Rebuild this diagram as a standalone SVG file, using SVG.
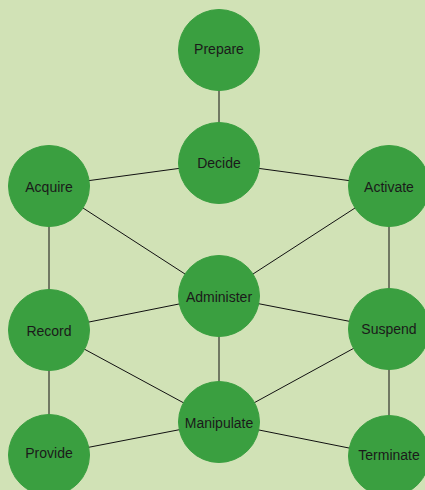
<svg xmlns="http://www.w3.org/2000/svg" width="425" height="490" viewBox="0 0 425 490">
<style>
.n circle{fill:#3a9f40;stroke:#3a9f40;stroke-width:1}
.n text{font-family:"Liberation Sans",Arial,sans-serif;font-size:14px;fill:#1a1a1a;text-anchor:middle;dominant-baseline:central}
#edges line{stroke:#111;stroke-width:1}
</style>
<rect width="425" height="490" fill="#d1e2b6"/>
<g id="edges">
<line x1="219" y1="50" x2="219" y2="163"/>
<line x1="219" y1="163" x2="49" y2="186"/>
<line x1="219" y1="163" x2="389" y2="186"/>
<line x1="49" y1="186" x2="219" y2="296"/>
<line x1="389" y1="186" x2="219" y2="296"/>
<line x1="49" y1="186" x2="49" y2="330"/>
<line x1="389" y1="186" x2="389" y2="329"/>
<line x1="219" y1="296" x2="49" y2="330"/>
<line x1="219" y1="296" x2="389" y2="329"/>
<line x1="219" y1="296" x2="219" y2="422"/>
<line x1="49" y1="330" x2="219" y2="422"/>
<line x1="389" y1="329" x2="219" y2="422"/>
<line x1="49" y1="330" x2="49" y2="455"/>
<line x1="389" y1="329" x2="389" y2="456"/>
<line x1="219" y1="422" x2="49" y2="455"/>
<line x1="219" y1="422" x2="389" y2="456"/>
</g>
<g id="prepare" class="n"><circle cx="219" cy="50" r="40.5"/><text x="219" y="49">Prepare</text></g>
<g id="decide" class="n"><circle cx="219" cy="163" r="40.5"/><text x="219" y="163">Decide</text></g>
<g id="acquire" class="n"><circle cx="49" cy="186" r="40.5"/><text x="49" y="187">Acquire</text></g>
<g id="activate" class="n"><circle cx="389" cy="186" r="40.5"/><text x="389" y="187">Activate</text></g>
<g id="administer" class="n"><circle cx="219" cy="296" r="40.5"/><text x="219" y="297">Administer</text></g>
<g id="record" class="n"><circle cx="49" cy="330" r="40.5"/><text x="49" y="331">Record</text></g>
<g id="suspend" class="n"><circle cx="389" cy="329" r="40.5"/><text x="389" y="329">Suspend</text></g>
<g id="manipulate" class="n"><circle cx="219" cy="422" r="40.5"/><text x="219" y="423">Manipulate</text></g>
<g id="provide" class="n"><circle cx="49" cy="455" r="40.5"/><text x="49" y="453">Provide</text></g>
<g id="terminate" class="n"><circle cx="389" cy="456" r="40.5"/><text x="389" y="455">Terminate</text></g>
</svg>
